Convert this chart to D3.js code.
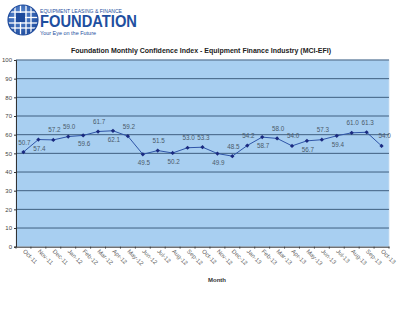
<!DOCTYPE html>
<html><head><meta charset="utf-8">
<script src="https://cdn.jsdelivr.net/npm/d3@7/dist/d3.min.js"></script>
<style>body{margin:0;background:#fff;}svg{display:block;font-family:"Liberation Sans",Arial,sans-serif;}</style>
</head><body>
<script>
const months = ["Oct-11","Nov-11","Dec-11","Jan-12","Feb-12","Mar-12","Apr-12","May-12","Jun-12","Jul-12","Aug-12","Sep-12","Oct-12","Nov-12","Dec-12","Jan-13","Feb-13","Mar-13","Apr-13","May-13","Jun-13","Jul-13","Aug-13","Sep-13","Oct-13"];
const values = [50.7,57.4,57.2,59.0,59.6,61.7,62.1,59.2,49.5,51.5,50.2,53.0,53.3,49.9,48.5,54.2,58.7,58.0,54.0,56.7,57.3,59.4,61.0,61.3,54.0];
// label placement: a = above, b = below, r = above-right
const labelPos = ["a","b","a","a","b","a","b","a","b","a","b","a","a","b","a","a","b","a","a","b","a","b","a","a","r"];
const yTicks = [0,10,20,30,40,50,60,70,80,90,100];

const W=400,H=326;
const svg=d3.select("body").append("svg").attr("width",W).attr("height",H);
const m={l:16,r:11,t:60,b:79.3};
const pw=W-m.l-m.r, ph=H-m.t-m.b;

// Logo
const logo=svg.append("g");
const defs=svg.append("defs");
const grad=defs.append("radialGradient").attr("id","gl").attr("cx","40%").attr("cy","35%").attr("r","70%");
grad.append("stop").attr("offset","0%").attr("stop-color","#5f8fd6");
grad.append("stop").attr("offset","100%").attr("stop-color","#1d4a9c");
logo.append("circle").attr("cx",23).attr("cy",20).attr("r",15).attr("fill","url(#gl)");
[15,20.5,26,31].forEach(x=>logo.append("line").attr("x1",x).attr("x2",x).attr("y1",5).attr("y2",35).attr("stroke","#fff").attr("stroke-width",1.3));
[12,17.5,23,28].forEach(y=>logo.append("line").attr("x1",8).attr("x2",38).attr("y1",y).attr("y2",y).attr("stroke","#fff").attr("stroke-width",1.3));
logo.append("rect").attr("x",16).attr("y",13).attr("width",9).attr("height",9).attr("fill","#1d4a9c");
logo.append("circle").attr("cx",23).attr("cy",20).attr("r",15).attr("fill","none").attr("stroke","#1d4a9c").attr("stroke-width",1.2);
logo.append("text").attr("x",40).attr("y",12.5).attr("font-size",5).attr("fill","#1e4fa0").attr("textLength",82).attr("lengthAdjust","spacingAndGlyphs").text("EQUIPMENT LEASING & FINANCE");
logo.append("text").attr("x",40).attr("y",27).attr("font-size",17).attr("font-weight","bold").attr("fill","#1e4fa0").attr("textLength",97).attr("lengthAdjust","spacingAndGlyphs").text("FOUNDATION");
logo.append("text").attr("x",40).attr("y",34.5).attr("font-size",6).attr("fill","#1e4fa0").attr("textLength",56).attr("lengthAdjust","spacingAndGlyphs").text("Your Eye on the Future");

// Title
svg.append("text").attr("x",201).attr("y",53).attr("text-anchor","middle").attr("font-size",7).attr("font-weight","bold").attr("fill","#222")
  .text("Foundation Monthly Confidence Index - Equipment Finance Industry (MCI-EFI)");

const x=d3.scaleBand().domain(months).range([m.l,m.l+pw]);
const y=d3.scaleLinear().domain([0,100]).range([m.t+ph,m.t]);

// plot bg
svg.append("rect").attr("x",m.l).attr("y",m.t).attr("width",pw).attr("height",ph).attr("fill","#a8cff1").attr("stroke","#c9dff2").attr("stroke-width",0.8);

// grid
svg.append("g").selectAll("line").data(yTicks.filter(d=>d>0)).join("line")
  .attr("x1",m.l).attr("x2",m.l+pw).attr("y1",d=>y(d)).attr("y2",d=>y(d))
  .attr("stroke","#3f5f80").attr("stroke-width",1);

// y axis
const ya=svg.append("g").attr("transform",`translate(${m.l},0)`).call(d3.axisLeft(y).tickValues(yTicks).tickSize(2).tickPadding(2));
ya.select(".domain").attr("stroke","#333");
ya.selectAll(".tick line").attr("stroke","#333");
ya.selectAll("text").attr("font-size",6).attr("fill","#444").attr("font-family","Liberation Sans, Arial, sans-serif");

// x axis
const xa=svg.append("g").attr("transform",`translate(0,${m.t+ph})`).call(d3.axisBottom(x).tickSize(0).tickPadding(0));
xa.select(".domain").attr("stroke","#333");
xa.selectAll(".tick text").attr("font-size",6).attr("fill","#666").attr("font-family","Liberation Sans, Arial, sans-serif")
  .attr("text-anchor","start").attr("dy",0).attr("transform","translate(-1,5) rotate(45)");
// tick marks between categories
svg.append("g").selectAll("line").data(months.concat(["_end"])).join("line")
  .attr("x1",(d,i)=>m.l+i*x.step()).attr("x2",(d,i)=>m.l+i*x.step())
  .attr("y1",m.t+ph).attr("y2",m.t+ph+2).attr("stroke","#333").attr("stroke-width",0.8);

svg.append("text").attr("x",217).attr("y",282).attr("text-anchor","middle").attr("font-size",6).attr("font-weight","bold").attr("fill","#333").text("Month");

// line
const cx=d=>x(d)+x.bandwidth()/2;
const line=d3.line().x((d,i)=>cx(months[i])).y(d=>y(d));
svg.append("path").datum(values).attr("d",line).attr("fill","none").attr("stroke","#2f55a8").attr("stroke-width",1);
svg.append("g").selectAll("rect").data(values).join("rect")
  .attr("x",(d,i)=>cx(months[i])-1.5).attr("y",d=>y(d)-1.5).attr("width",3).attr("height",3)
  .attr("fill","#1a2a80").attr("transform",(d,i)=>`rotate(45,${cx(months[i])},${y(d)})`);

// data labels
svg.append("g").selectAll("text").data(values).join("text")
  .attr("x",(d,i)=>cx(months[i])+(labelPos[i]==="r"?3:1))
  .attr("y",(d,i)=>y(d)+(labelPos[i]==="b"?11:-7.5))
  .attr("text-anchor","middle")
  .attr("font-size",6.3).attr("fill","#4a5a6a")
  .text(d=>d.toFixed(1));
</script>
</body></html>
